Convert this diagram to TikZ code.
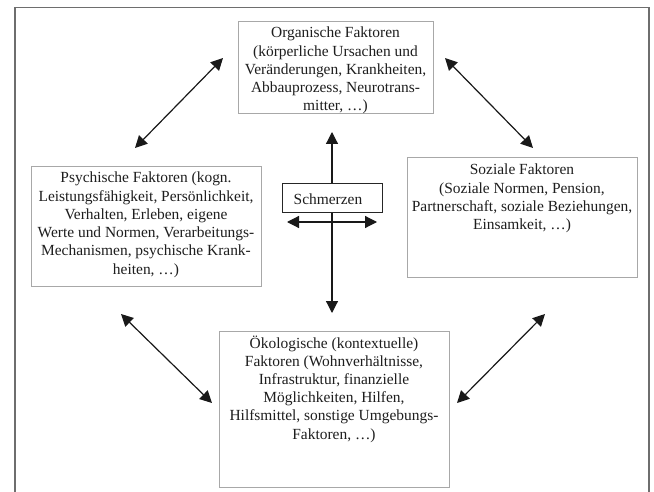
\documentclass[tikz,border=0pt]{standalone}
\usepackage{fontspec}
\setmainfont{Liberation Serif}
\usetikzlibrary{arrows.meta}
\definecolor{framegray}{HTML}{6E6E6E}
\definecolor{boxgray}{HTML}{A8A8A8}
\definecolor{txt}{HTML}{1E1E1E}
\begin{document}
\begin{tikzpicture}[x=1bp,y=-1bp,
  factorbox/.style={draw=boxgray, line width=1bp, fill=white, inner sep=0pt, anchor=north west},
  painbox/.style={draw=black!85, line width=1.4bp, fill=white, inner sep=0pt, anchor=north west},
  lbl/.style={anchor=base, inner sep=0pt, text=txt, font=\fontsize{15.5}{18.3}\selectfont},
  dblarrow/.style={{Triangle[length=12bp,width=12bp]}-{Triangle[length=12bp,width=12bp]}, line width=1.2bp, black!90}]
\useasboundingbox (0,0) rectangle (654,492);
\fill[white] (0,0) rectangle (654,492);
% outer frame
\draw[framegray, line width=1.6bp] (15,492) -- (15,7.5) -- (649,7.5) -- (649,492);

% arrow end points
\coordinate (a1s) at (135,148); \coordinate (a1e) at (223,58);
\coordinate (a2s) at (445,58);  \coordinate (a2e) at (533,148);
\coordinate (a3s) at (121,314); \coordinate (a3e) at (212,403);
\coordinate (a4s) at (457,403); \coordinate (a4e) at (545,314);
\coordinate (vt) at (332,132);  \coordinate (vb) at (332,313);
\coordinate (hl) at (287,222);  \coordinate (hr) at (377,222);

% boxes
\node[factorbox, minimum width=195bp, minimum height=92bp] (org) at (238,21) {};
\node[factorbox, minimum width=230bp, minimum height=120bp] (psy) at (31,166) {};
\node[factorbox, minimum width=230bp, minimum height=120bp] (soz) at (407,157) {};
\node[factorbox, minimum width=230bp, minimum height=156bp] (oek) at (219,331) {};

% central arrows
\draw[dblarrow] (vb) -- (vt);
\draw[dblarrow] (hl) -- (hr);
\node[painbox, minimum width=100bp, minimum height=29bp] (pain) at (282,183) {};
\node[lbl] (paintxt) at (328,205) {Schmerzen};

% diagonal arrows
\draw[dblarrow] (a1s) -- (a1e);
\draw[dblarrow] (a2s) -- (a2e);
\draw[dblarrow] (a3s) -- (a3e);
\draw[dblarrow] (a4s) -- (a4e);

% texts
\node[lbl] (orgtxt) at (335.5,38) {\setlength{\tabcolsep}{0pt}\begin{tabular}[t]{c}
Organische Faktoren\\
(körperliche Ursachen und\\
Veränderungen, Krankheiten,\\
Abbauprozess, Neurotrans-\\
mitter, …)\end{tabular}};
\node[lbl] (psytxt) at (146,183) {\setlength{\tabcolsep}{0pt}\begin{tabular}[t]{c}
Psychische Faktoren (kogn.\\
Leistungsfähigkeit, Persönlichkeit,\\
Verhalten, Erleben, eigene\\
Werte und Normen, Verarbeitungs-\\
Mechanismen, psychische Krank-\\
heiten, …)\end{tabular}};
\node[lbl] (soztxt) at (522,175) {\setlength{\tabcolsep}{0pt}\begin{tabular}[t]{c}
Soziale Faktoren\\
(Soziale Normen, Pension,\\
Partnerschaft, soziale Beziehungen,\\
Einsamkeit, …)\end{tabular}};
\node[lbl] (oektxt) at (334,348) {\setlength{\tabcolsep}{0pt}\begin{tabular}[t]{c}
Ökologische (kontextuelle)\\
Faktoren (Wohnverhältnisse,\\
Infrastruktur, finanzielle\\
Möglichkeiten, Hilfen,\\
Hilfsmittel, sonstige Umgebungs-\\
Faktoren, …)\end{tabular}};
\end{tikzpicture}
\end{document}
